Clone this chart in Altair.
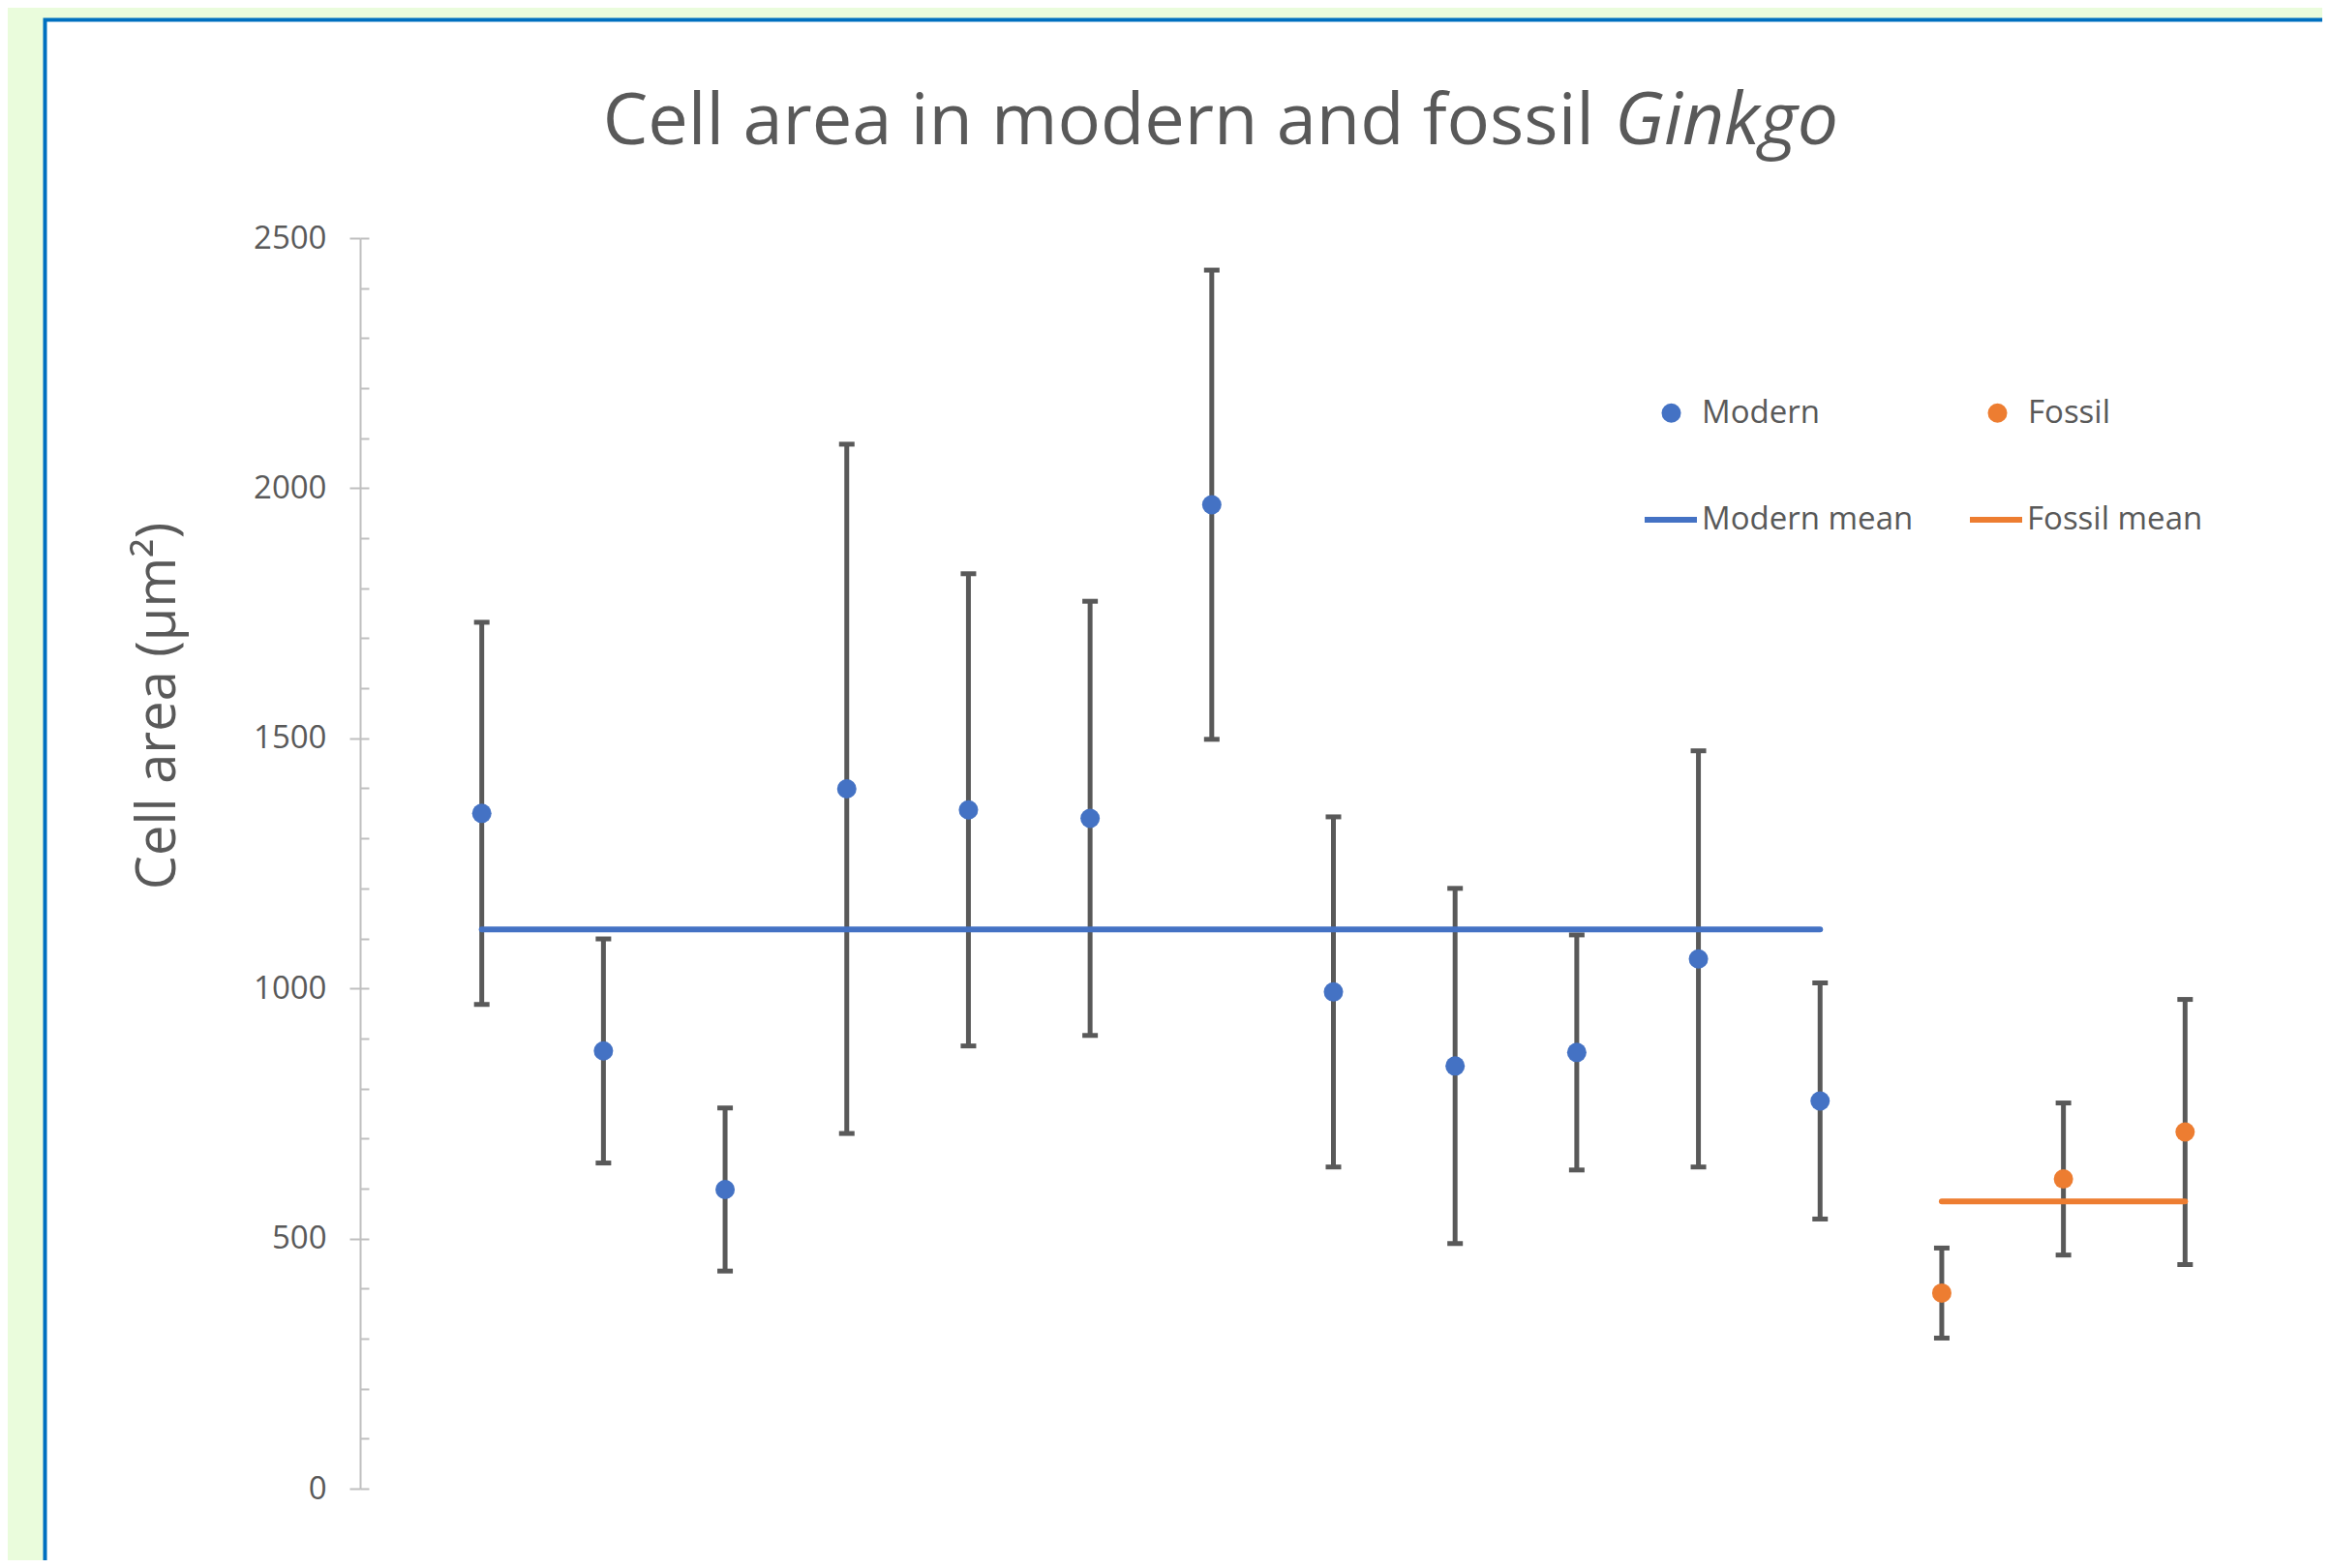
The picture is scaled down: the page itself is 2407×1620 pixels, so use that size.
import altair as alt
import pandas as pd

# ---- data ----
categories = list(range(1, 16))
series = ["Modern"] * 12 + ["Fossil"] * 3
means = [1350, 875, 598, 1399, 1357, 1340, 1967, 993, 845, 872, 1059, 775, 391, 619, 713]
errors = [382, 224, 163, 689, 472, 434, 469, 350, 355, 235, 416, 236, 90, 152, 265]

mean_names = ["Modern mean", "Fossil mean"]
mean_values = [1118, 574]
mean_start = [1, 13]
mean_end = [12, 15]

point_names = ["Modern", "Fossil"]
point_colors = ["#4472C4", "#ED7D31"]
line_colors = ["#4472C4", "#ED7D31"]

y_major = [0, 500, 1000, 1500, 2000, 2500]
y_minor = list(range(0, 2501, 100))

title_main = "Cell area in modern and fossil"
title_italic = "Ginkgo"
y_title = "Cell area (µm²)"

# ---- tables ----
df = pd.DataFrame({"x": categories, "series": series, "mean": means, "err": errors})
df["lo"] = df["mean"] - df["err"]
df["hi"] = df["mean"] + df["err"]
mean_df = pd.DataFrame({"series": mean_names, "start": mean_start, "end": mean_end, "value": mean_values})
one = pd.DataFrame({"k": [0]})

W, H = 2011, 1292
GREY = "#595959"
FONT = "Open Sans"

xs = alt.Scale(domain=[0, 16], nice=False, zero=False)
ys = alt.Scale(domain=[0, 2500], nice=False)

box = alt.Chart(one).mark_rect(fill="white", stroke="#0070C0", strokeWidth=4).encode(
    x=alt.value(-325.5), x2=alt.value(2100), y=alt.value(-225.5), y2=alt.value(1500)
)

title1 = alt.Chart(one).mark_text(
    font=FONT, fontSize=74, color=GREY, align="right", baseline="alphabetic"
).encode(x=alt.value(1275), y=alt.value(-97), text=alt.value(title_main))

title2 = alt.Chart(one).mark_text(
    font=FONT, fontSize=75, color=GREY, align="left", baseline="alphabetic", fontStyle="italic"
).encode(x=alt.value(1296), y=alt.value(-97), text=alt.value(title_italic))

minor_axis = alt.Axis(
    orient="right", offset=-W, values=y_minor, tickSize=9, tickColor="#BFBFBF",
    tickWidth=2, labels=False, domain=False, grid=False, title=None, zindex=2
)

main_axis = alt.Axis(
    orient="left", values=y_major, format="d", tickSize=11, tickColor="#BFBFBF", tickWidth=2,
    domainColor="#BFBFBF", domainWidth=2, grid=False, zindex=2,
    labelFont=FONT, labelFontSize=33, labelColor=GREY, labelPadding=24,
    title=y_title, titleFont=FONT, titleFontSize=56, titleColor=GREY, titleFontWeight="normal",
    titleAngle=270, titleX=-209, titleY=483, titleAlign="center", titleBaseline="middle"
)

bars = alt.Chart(df).mark_rule(color=GREY, strokeWidth=5).encode(
    x=alt.X("x:Q", scale=xs, axis=None),
    y=alt.Y("lo:Q", scale=ys, axis=minor_axis),
    y2="hi:Q",
)

caps_lo = alt.Chart(df).mark_tick(orient="horizontal", size=16, thickness=5, color=GREY, opacity=1).encode(
    x=alt.X("x:Q", scale=xs, axis=None),
    y=alt.Y("lo:Q", scale=ys, axis=None),
)
caps_hi = alt.Chart(df).mark_tick(orient="horizontal", size=16, thickness=5, color=GREY, opacity=1).encode(
    x=alt.X("x:Q", scale=xs, axis=None),
    y=alt.Y("hi:Q", scale=ys, axis=None),
)

lines = alt.Chart(mean_df).mark_rule(strokeWidth=6, strokeCap="round").encode(
    x=alt.X("start:Q", scale=xs, axis=None),
    x2="end:Q",
    y=alt.Y("value:Q", scale=ys, axis=None),
    stroke=alt.Stroke(
        "series:N",
        scale=alt.Scale(domain=mean_names, range=line_colors),
        legend=alt.Legend(
            title=None, orient="none", legendX=1324, legendY=261, columns=2,
            columnPadding=46, padding=0, labelFont=FONT, labelFontSize=33, labelColor=GREY,
            labelOffset=2, labelLimit=500, symbolType="stroke", symbolSize=2916, symbolStrokeWidth=6,
        ),
    ),
)

points = alt.Chart(df).mark_point(filled=True, size=400, opacity=1).encode(
    x=alt.X("x:Q", scale=xs, axis=None),
    y=alt.Y("mean:Q", scale=ys, axis=main_axis),
    color=alt.Color(
        "series:N",
        scale=alt.Scale(domain=point_names, range=point_colors),
        legend=alt.Legend(
            title=None, orient="none", legendX=1338, legendY=164, columns=2,
            columnPadding=167, padding=0, labelFont=FONT, labelFontSize=33, labelColor=GREY,
            labelOffset=15, labelLimit=500, symbolType="circle", symbolSize=400, symbolOpacity=1,
        ),
    ),
)

chart = (
    alt.layer(box, title1, title2, bars, caps_lo, caps_hi, lines, points)
    .resolve_axis(y="independent")
    .properties(
        width=W, height=H,
        autosize=alt.AutoSizeParams(type="none"),
        padding={"left": 364, "top": 238, "right": 16, "bottom": 74},
        background="#EAFCDC",
    )
    .configure(font=FONT)
    .configure_view(strokeWidth=0)
)

chart.save("out.html", embed_options={"renderer": "svg", "actions": False})
